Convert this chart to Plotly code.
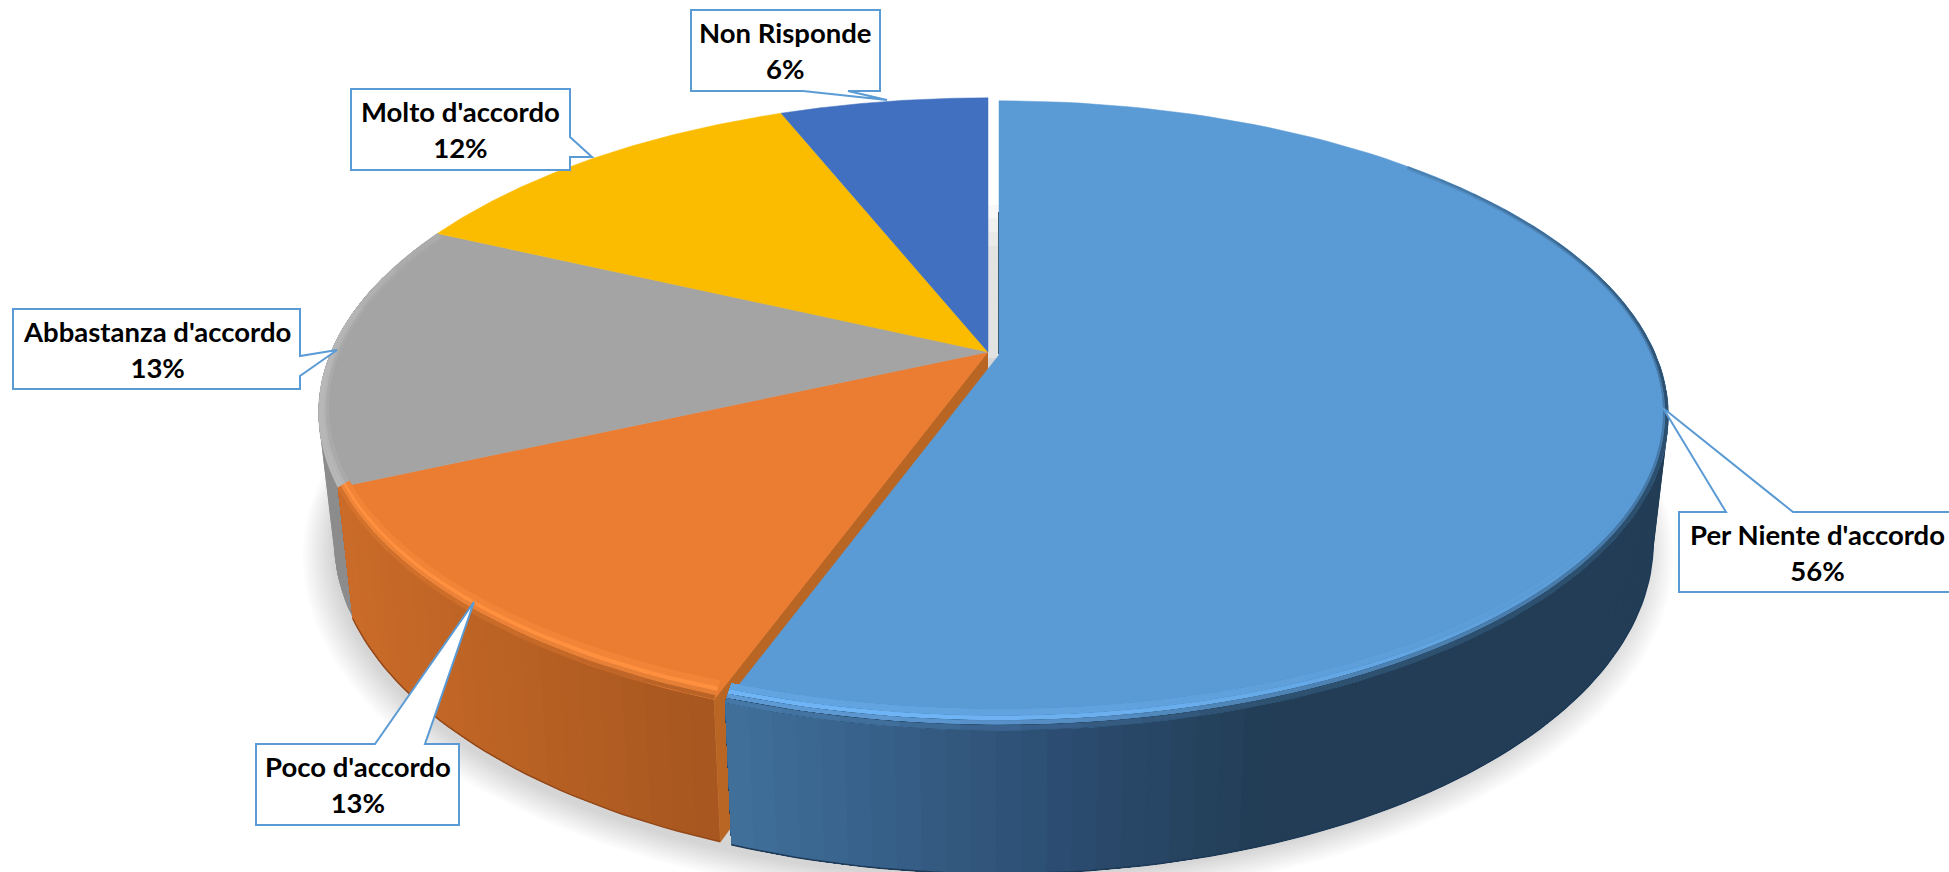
import numpy as np
import plotly.graph_objects as go

# ---- data ----
categories = ["Per Niente d'accordo", "Poco d'accordo", "Abbastanza d'accordo", "Molto d'accordo", "Non Risponde"]
values = [55.55, 12.7, 13.7, 12.0, 6.05]
percent_labels = ["56%", "13%", "13%", "12%", "6%"]
top_colors = ["#5B9BD5", "#EB7D32", "#A4A4A4", "#FBBC00", "#4270C0"]

# ---- projection of the 3D disc (page pixels) ----
W, H = 1949, 872
CX, CY, A, B, K = 988.0, 352.0, 657.0, 303.0, 0.192
BOT_Y, BOT_B, BOT_S = 476.0, 319.0, 0.977
EXPLODE = (11.0, 3.0)


def top(th, r=1.0, off=(0, 0)):
    th = np.radians(th)
    ru = 1 - (1 - r) * 0.3 if r > 0 else 0
    u, v = ru * np.sin(th), -r * np.cos(th)
    w = 1 - K * v
    return CX + off[0] + A * u / w, CY + off[1] + B * v / w


def bot(th, off=(0, 0), grow=0.0):
    th = np.radians(th)
    u, v = np.sin(th), -np.cos(th)
    w = 1 - K * v
    return (CX + off[0] + BOT_S * A * (1 + grow) * u / w,
            BOT_Y + off[1] + BOT_B * (1 + grow) * v / w)


def rgb(h):
    h = h.lstrip("#")
    return np.array([int(h[i:i + 2], 16) for i in (0, 2, 4)], float)


def mix(a, b, t):
    t = float(np.clip(t, 0, 1))
    c = (1 - t) * a + t * b
    return "#%02x%02x%02x" % tuple(int(round(x)) for x in c)


def mixa(a, b, t):
    return rgb(mix(a, b, t))


fig = go.Figure()


def poly(xs, ys, color, lw=0.8):
    fig.add_trace(go.Scatter(x=list(xs), y=list(ys), mode="lines", fill="toself", fillcolor=color,
                             line=dict(color=color, width=lw), hoverinfo="skip", showlegend=False))


def line(xs, ys, color, lw):
    fig.add_trace(go.Scatter(x=list(xs), y=list(ys), mode="lines", line=dict(color=color, width=lw),
                             hoverinfo="skip", showlegend=False))


cum = np.concatenate([[0], np.cumsum(values)]) / sum(values) * 360
t0 = {c: (cum[i], cum[i + 1]) for i, c in enumerate(categories)}
blue, orange, gray, yellow, dkblue = categories

# ---- soft ground shadow ----
SH = 14
for i in range(SH, 0, -1):
    g = i * 0.0034
    th = np.linspace(0, 360, 181)
    x, y = bot(th, off=(0, 6 + i * 0.6), grow=g)
    fig.add_trace(go.Scatter(x=x, y=y, mode="lines", fill="toself", fillcolor="rgba(0,0,0,0.013)",
                             line=dict(width=0), hoverinfo="skip", showlegend=False))

# ---- gap between exploded slice and the rest ----
gy = np.linspace(205, 358, 12)
for i in range(len(gy) - 1):
    c = mix(rgb("#FFFFFF"), rgb("#E2E2E2"), min(1, (i + 1) / 4))
    poly([CX, CX + 12, CX + 12, CX], [gy[i], gy[i], gy[i + 1], gy[i + 1]], c, 0.5)


# ---- side walls: painted over each other so no seams appear ----
def wall(a, b, off, colfn, n):
    ed = np.linspace(a, b, n + 1)
    for i in range(n):
        mid = (ed[i] + ed[i + 1]) / 2
        c = colfn(bot(mid, off=off)[0])
        arc = np.linspace(ed[i], b, 30)
        xt, yt = top(arc, off=off)
        xb, yb = bot(arc[::-1], off=off)
        fig.add_trace(go.Scatter(x=np.r_[xt, xb], y=np.r_[yt, yb], mode="lines", fill="toself", fillcolor=c,
                                 line=dict(width=0), hoverinfo="skip", showlegend=False))


wall(t0[orange][1] - 1, 285, (0, 0), lambda x: "#8C8C8C", 16)


def orange_wall(x):
    return mix(rgb("#CB6C29"), rgb("#A6561F"), (x - 345) / (720 - 345))


wall(*t0[orange], (0, 0), orange_wall, 24)
bx, by = bot(np.linspace(*t0[orange], 40))
line(bx, by, "#94491A", 1.5)

# cut face of the orange slice
th = t0[orange][0]
xa, ya = top(th)
xb, yb = bot(th)
xc0, yc0 = top(0, r=0)
poly([xc0, xa, xb, CX], [yc0, ya, yb, BOT_Y], "#B96524")


def blue_wall(x):
    if x < 1040:
        return mix(rgb("#41719C"), rgb("#2D4F74"), (x - 726) / (1040 - 726))
    return mix(rgb("#2D4F74"), rgb("#223D55"), (x - 1040) / (1260 - 1040))


wall(92, t0[blue][1], EXPLODE, blue_wall, 60)
bx, by = bot(np.linspace(100, t0[blue][1], 80), off=EXPLODE)
line(bx, by, "#1E3A57", 1.5)

# ---- top faces ----
for name, col in zip(categories, top_colors):
    off = EXPLODE if name == blue else (0, 0)
    th = np.linspace(*t0[name], 120)
    x, y = top(th, off=off)
    cx0, cy0 = top(0, r=0, off=off)
    poly(np.r_[cx0, x, cx0], np.r_[cy0, y, cy0], col, 0.5)

# dark edge of the exploded slice along the gap
line([CX + 10.5, CX + 10.5], [212, 354], "#3F5A74", 1)

# ---- bevel rim, painted from the outer ring inwards ----
rings = [0.955, 0.97, 0.98, 0.99, 1.0]


def rim(a, b, off, n, band):
    ed = np.linspace(a, b, n + 1)
    for j in range(4):
        for i in range(n):
            m = (ed[i] + ed[i + 1]) / 2
            arc = np.linspace(ed[i], b, 24)
            x1, y1 = top(arc, rings[j], off)
            x2, y2 = top(arc[::-1], rings[j + 1], off)
            fig.add_trace(go.Scatter(x=np.r_[x1, x2], y=np.r_[y1, y2], mode="lines", fill="toself",
                                     fillcolor=band(m, j), line=dict(width=0),
                                     hoverinfo="skip", showlegend=False))


def blue_band(th, j):
    base, lite = rgb("#5B9BD5"), rgb("#6FB4F5")
    x, _ = bot(th, off=EXPLODE)
    wl = rgb(blue_wall(x))
    h = np.clip((th - 125) / 60, 0, 1)
    d = np.clip((th - 15) / 80, 0, 1)
    if j == 0:
        return mix(base, lite, 0.35 * h)
    if j == 1:
        return mix(base, lite, h)
    if j == 2:
        return mix(mixa(base, lite, h), wl, 0.35 * d)
    return mix(mixa(base, lite, 0.4 * h), wl, 0.8 * d)


def orange_band(th, j):
    base, lite = rgb("#EB7D32"), rgb("#FF9040")
    x, _ = bot(th)
    wl = rgb(orange_wall(x))
    return [mix(base, lite, 0.35), mix(base, lite, 1), mix(lite, wl, 0.3), mix(lite, wl, 0.8)][j]


def gray_band(th, j):
    base, lite = rgb("#A4A4A4"), rgb("#B8B8B8")
    h = np.clip((300 - th) / 30, 0, 1)
    return [mix(base, lite, 0.3 * h), mix(base, lite, 0.8 * h), mix(base, lite, h), mix(base, lite, h)][j]


rim(45, t0[blue][1], EXPLODE, 36, blue_band)
rim(*t0[orange], (0, 0), 8, orange_band)
rim(*t0[gray], (0, 0), 6, gray_band)

# ---- call-outs ----
BORDER = "#5B9BD5"
callouts = {
    blue: ((1679, 512, 1955, 592), "M1679,512 L1726,512 L1663,408 L1793,512 L1955,512 L1955,592 L1679,592 Z"),
    orange: ((256, 744, 459, 825), "M256,744 L375,744 L474,602 L425,744 L459,744 L459,825 L256,825 Z"),
    gray: ((13, 309, 300, 389), "M13,309 L300,309 L300,356 L337,350 L300,376 L300,389 L13,389 Z"),
    yellow: ((351, 89, 570, 170), "M351,89 L570,89 L570,137 L592,157 L570,157 L570,170 L351,170 Z"),
    dkblue: ((691, 10, 880, 91), "M691,10 L880,10 L880,91 L848,91 L887,100 L803,91 L691,91 Z"),
}
shapes = []
annotations = []
for name, label in zip(categories, percent_labels):
    (x0, y0, x1, y1), path = callouts[name]
    shapes.append(dict(type="path", path=path, xref="x", yref="y", fillcolor="white",
                       line=dict(color=BORDER, width=2), layer="above"))
    xc = 1817 if name == blue else (x0 + x1) / 2
    annotations.append(dict(x=xc, y=(y0 + y1) / 2, xref="x", yref="y", showarrow=False,
                            text=f"<b>{name}<br>{label}</b>", align="center",
                            font=dict(family="Lato", size=27.5, color="#000000")))

fig.update_layout(
    width=W, height=H, margin=dict(l=0, r=0, t=0, b=0), showlegend=False,
    paper_bgcolor="white", plot_bgcolor="white",
    xaxis=dict(range=[0, W], visible=False, fixedrange=True),
    yaxis=dict(range=[H, 0], visible=False, fixedrange=True),
    shapes=shapes, annotations=annotations,
)
fig.write_html("out.html", post_script="document.body.style.margin='0';document.body.style.overflow='hidden';",
               config={"displayModeBar": False})
